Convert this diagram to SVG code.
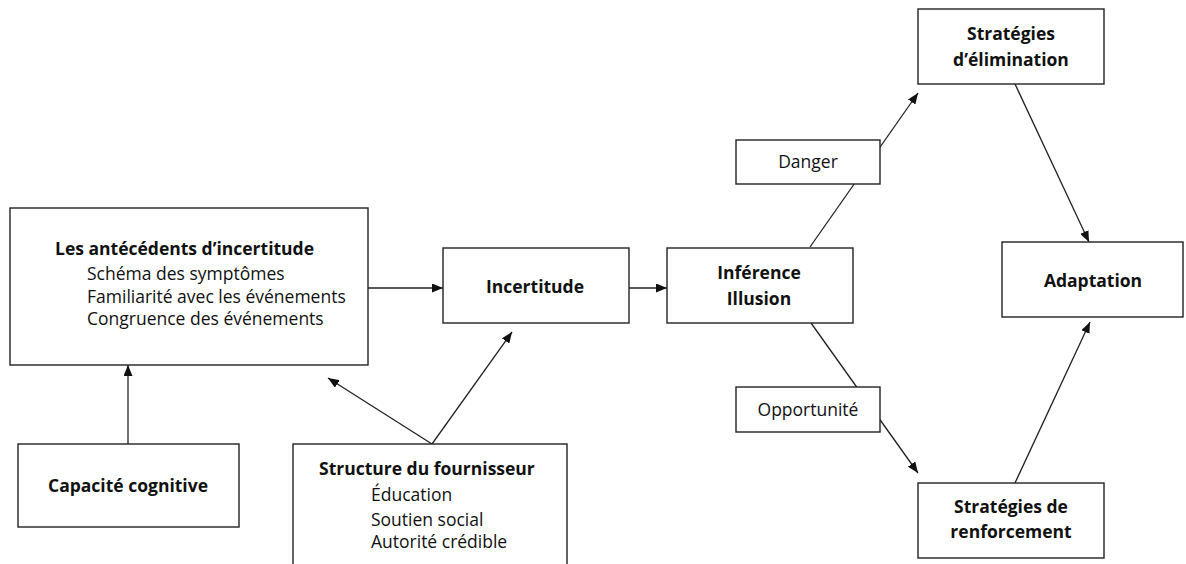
<svg xmlns="http://www.w3.org/2000/svg" width="1186" height="564" viewBox="0 0 1186 564">
<defs>
<marker id="arr" viewBox="0 0 11 9" refX="11" refY="4.5" markerWidth="11" markerHeight="9" markerUnits="userSpaceOnUse" orient="auto">
<path d="M0,0 L11,4.5 L0,9 Z" fill="#111"/>
</marker>
<style>
.box{fill:#fff;stroke:#222;stroke-width:1.4}
.t{font-family:"Open Sans","Liberation Sans",sans-serif;font-size:17.5px;fill:#111}
.b{font-weight:bold}
.c{text-anchor:middle}
.ln{stroke:#222;stroke-width:1.3;fill:none}
</style>
</defs>
<rect width="1186" height="564" fill="#fff"/>
<g id="connectors">
<path class="ln" d="M368,288 H443" marker-end="url(#arr)"/>
<path class="ln" d="M629,288 H667" marker-end="url(#arr)"/>
<path class="ln" d="M810,247 L918,93" marker-end="url(#arr)"/>
<path class="ln" d="M811,323 L918,473" marker-end="url(#arr)"/>
<path class="ln" d="M1015,84 L1089,242" marker-end="url(#arr)"/>
<path class="ln" d="M1015,483 L1090,322" marker-end="url(#arr)"/>
<path class="ln" d="M128,444 V365" marker-end="url(#arr)"/>
<path class="ln" d="M432,444 L328,378" marker-end="url(#arr)"/>
<path class="ln" d="M432,444 L512,332" marker-end="url(#arr)"/>
</g>
<g id="antecedents">
<rect class="box" x="10" y="208" width="358" height="157"/>
<text class="t b" x="55" y="255">Les antécédents d’incertitude</text>
<text class="t" x="87" y="280">Schéma des symptômes</text>
<text class="t" x="87" y="303">Familiarité avec les événements</text>
<text class="t" x="87" y="325">Congruence des événements</text>
</g>
<g id="incertitude">
<rect class="box" x="443" y="248" width="186" height="75"/>
<text class="t b c" x="535" y="293">Incertitude</text>
</g>
<g id="inference">
<rect class="box" x="667" y="248" width="186" height="75"/>
<text class="t b c" x="759" y="279">Inférence</text>
<text class="t b c" x="759" y="305">Illusion</text>
</g>
<g id="danger">
<rect class="box" x="736" y="140" width="144" height="44"/>
<text class="t c" x="808" y="168">Danger</text>
</g>
<g id="opportunite">
<rect class="box" x="736" y="387" width="144" height="45"/>
<text class="t c" x="808" y="416">Opportunité</text>
</g>
<g id="elimination">
<rect class="box" x="918" y="9" width="186" height="75"/>
<text class="t b c" x="1011" y="40">Stratégies</text>
<text class="t b c" x="1011" y="66">d’élimination</text>
</g>
<g id="renforcement">
<rect class="box" x="918" y="483" width="186" height="75"/>
<text class="t b c" x="1011" y="513">Stratégies de</text>
<text class="t b c" x="1011" y="538">renforcement</text>
</g>
<g id="adaptation">
<rect class="box" x="1002" y="242" width="181" height="75"/>
<text class="t b c" x="1093" y="287">Adaptation</text>
</g>
<g id="capacite">
<rect class="box" x="18" y="444" width="221" height="83"/>
<text class="t b c" x="128" y="492">Capacité cognitive</text>
</g>
<g id="structure">
<rect class="box" x="293" y="444" width="274" height="130"/>
<text class="t b" x="319" y="475">Structure du fournisseur</text>
<text class="t" x="371" y="501">Éducation</text>
<text class="t" x="371" y="526">Soutien social</text>
<text class="t" x="371" y="548">Autorité crédible</text>
</g>
</svg>
